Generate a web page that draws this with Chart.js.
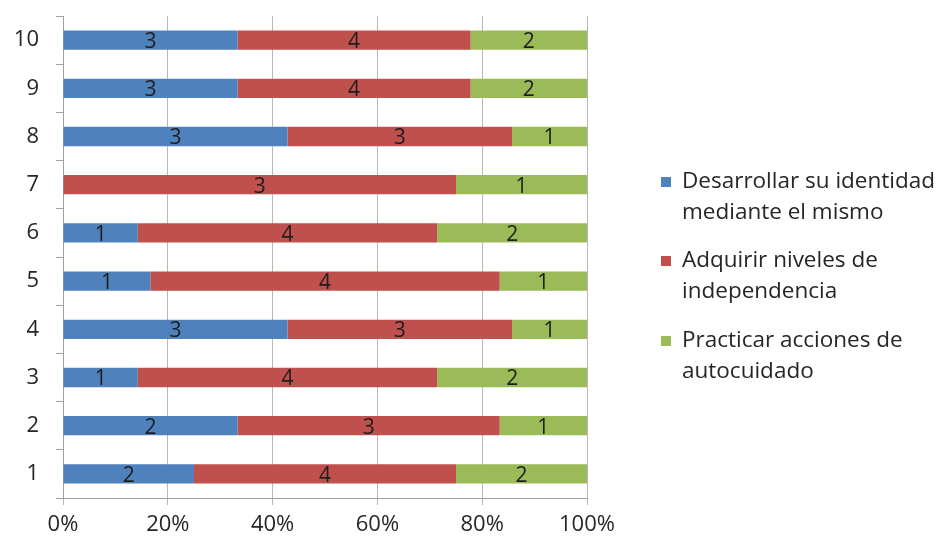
<!DOCTYPE html>
<html>
<head>
<meta charset="utf-8">
<script src="https://cdn.jsdelivr.net/npm/chart.js@4/dist/chart.umd.min.js"></script>
<style>
html,body{margin:0;padding:0;background:#fff;}
#wrap{width:949px;height:543px;}
</style>
</head>
<body>
<div id="wrap"><canvas id="c" width="949" height="543"></canvas></div>
<script>
const categories = ['1','2','3','4','5','6','7','8','9','10'];
const desarrollar = [2,2,1,3,1,1,0,3,3,3];
const adquirir    = [4,3,4,3,4,4,3,3,4,4];
const practicar   = [2,1,2,1,1,2,1,1,2,2];
const seriesNames = [
  ['Desarrollar su identidad','mediante el mismo'],
  ['Adquirir niveles de','independencia'],
  ['Practicar acciones de','autocuidado']
];
const colors = ['#4F81BD','#C0504D','#9BBB59'];
const FONT = '"Open Sans", "Liberation Sans", sans-serif';

const counts = [desarrollar, adquirir, practicar];
const totals = categories.map((_, i) => counts.reduce((s, a) => s + a[i], 0));
const pct = arr => arr.map((v, i) => v / totals[i] * 100);

const labelPlugin = {
  id: 'segLabels',
  afterDatasetsDraw(chart) {
    const ctx = chart.ctx;
    ctx.save();
    ctx.font = '21px ' + FONT;
    ctx.fillStyle = '#1e1e1e';
    ctx.textAlign = 'center';
    ctx.textBaseline = 'middle';
    chart.data.datasets.forEach((ds, di) => {
      const meta = chart.getDatasetMeta(di);
      meta.data.forEach((bar, i) => {
        const raw = counts[di][i];
        if (!raw) return;
        const cx = (bar.x + bar.base) / 2;
        ctx.fillText(String(raw), cx, bar.y + 2);
      });
    });
    ctx.restore();
  }
};

const legendPlugin = {
  id: 'sideLegend',
  afterDraw(chart) {
    const ctx = chart.ctx;
    ctx.save();
    ctx.font = '22.5px ' + FONT;
    ctx.textAlign = 'left';
    ctx.textBaseline = 'middle';
    const starts = [182, 261, 341];
    seriesNames.forEach((lines, k) => {
      const y0 = starts[k];
      ctx.fillStyle = colors[k];
      ctx.fillRect(661, y0 - 5, 10, 10);
      ctx.fillStyle = '#262626';
      lines.forEach((t, j) => ctx.fillText(t, 682, y0 + j * 31));
    });
    ctx.restore();
  }
};

new Chart(document.getElementById('c'), {
  type: 'bar',
  data: {
    labels: categories,
    datasets: counts.map((arr, k) => ({
      label: seriesNames[k].join(' '),
      data: pct(arr),
      backgroundColor: colors[k],
      borderWidth: 0,
      barPercentage: 0.4,
      categoryPercentage: 1.0
    }))
  },
  options: {
    indexAxis: 'y',
    responsive: false,
    animation: false,
    layout: { padding: { top: 16, right: 362, left: 0, bottom: 0 } },
    plugins: { legend: { display: false }, tooltip: { enabled: false } },
    scales: {
      x: {
        stacked: true,
        min: 0, max: 100,
        ticks: { stepSize: 20, callback: v => v + '%', color: '#262626', font: { size: 22, family: FONT }, padding: 7 },
        grid: { color: '#B8B8B8', lineWidth: 1, tickLength: 7, drawTicks: true },
        border: { color: '#A0A0A0' },
        afterFit(s) { s.height = 45; s.paddingLeft = 0; s.paddingRight = 0; }
      },
      y: {
        stacked: true,
        reverse: true,
        ticks: { color: '#262626', font: { size: 22, family: FONT }, padding: 17 },
        grid: { drawOnChartArea: false, drawTicks: true, tickLength: 7, color: '#A0A0A0', offset: true },
        border: { color: '#A0A0A0' },
        afterFit(s) { s.width = 63; s.paddingTop = 0; s.paddingBottom = 0; }
      }
    }
  },
  plugins: [labelPlugin, legendPlugin]
});
</script>
</body>
</html>
